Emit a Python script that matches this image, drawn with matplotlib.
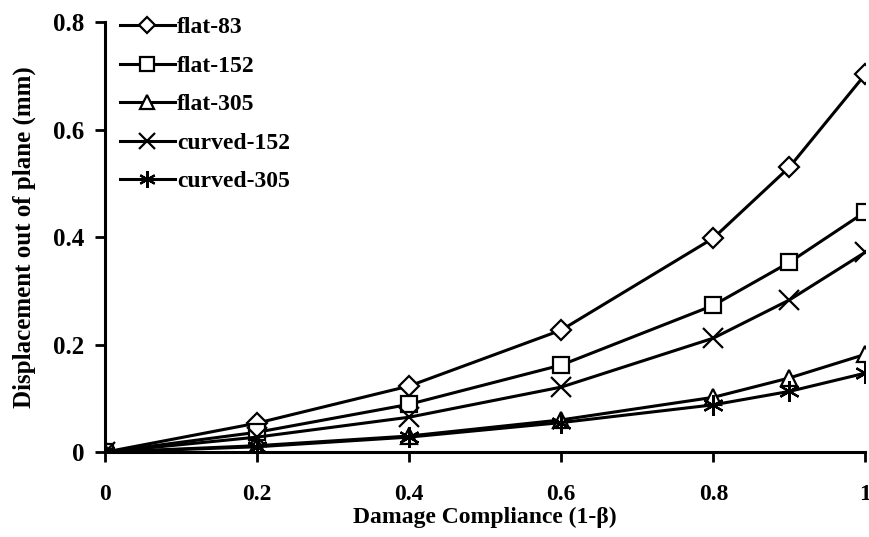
import matplotlib.pyplot as plt

plt.rcParams['font.family'] = ['Liberation Serif', 'DejaVu Serif']
plt.rcParams['font.weight'] = 'bold'

compliance = [0, 0.2, 0.4, 0.6, 0.8, 0.9, 1.0]

flat_83 = [0, 0.054, 0.123, 0.227, 0.398, 0.530, 0.703]
flat_152 = [0, 0.037, 0.089, 0.162, 0.273, 0.353, 0.447]
flat_305 = [0, 0.012, 0.030, 0.060, 0.102, 0.138, 0.182]
curved_152 = [0, 0.028, 0.065, 0.121, 0.212, 0.283, 0.372]
curved_305 = [0, 0.010, 0.028, 0.055, 0.088, 0.113, 0.147]

series = [
    ('flat-83', flat_83, 'D', 10),
    ('flat-152', flat_152, 's', 12),
    ('flat-305', flat_305, '^', 12),
    ('curved-152', curved_152, 'x', 14),
    ('curved-305', curved_305, (6, 2, 0), 15),
]

fig = plt.figure(figsize=(8.7, 5.37), dpi=100)
ax = fig.add_axes([0.1207, 0.158, 0.874, 0.801])

for name, values, marker, size in series:
    ax.plot(compliance, values, color='black', linewidth=2.2, marker=marker,
            markersize=size, markerfacecolor='white', markeredgecolor='black',
            markeredgewidth=1.6, label=name)

ax.set_xlim(0, 1)
ax.set_ylim(0, 0.8)
ax.set_xticks([0, 0.2, 0.4, 0.6, 0.8, 1])
ax.set_xticklabels(['0', '0.2', '0.4', '0.6', '0.8', '1'])
ax.set_yticks([0, 0.2, 0.4, 0.6, 0.8])
ax.set_yticklabels(['0', '0.2', '0.4', '0.6', '0.8'])
ax.tick_params(axis='x', direction='out', length=7, width=2, pad=16, labelsize=17)
ax.tick_params(axis='y', direction='out', length=7, width=2, pad=8, labelsize=18)

for side in ['top', 'right']:
    ax.spines[side].set_visible(False)
for side in ['left', 'bottom']:
    ax.spines[side].set_linewidth(2.2)

ax.set_xlabel('Damage Compliance (1-β)', fontsize=17, fontweight='bold', labelpad=1)
ax.set_ylabel('Displacement out of plane (mm)', fontsize=18, fontweight='bold', labelpad=12)

ax.legend(loc='upper left', bbox_to_anchor=(0.02, 1.012), frameon=False, fontsize=17,
          handlelength=2.3, handletextpad=0.1, labelspacing=0.72, borderaxespad=0,
          borderpad=0, markerscale=0.8)

for mark in ax.get_xticklabels() + ax.get_yticklabels():
    mark.set_fontweight('bold')

fig.savefig('out.png', dpi=100)
